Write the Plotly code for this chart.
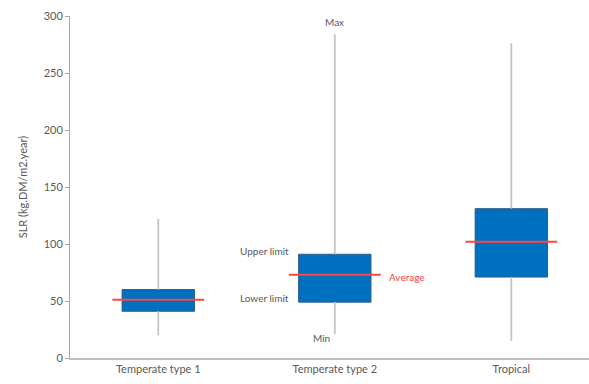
import plotly.graph_objects as go

categories = ["Temperate type 1", "Temperate type 2", "Tropical"]
min_vals = [20, 21, 15]
lower_vals = [41, 49, 71]
avg_vals = [51, 73, 102]
upper_vals = [60, 91, 131]
max_vals = [122, 284, 276]
y_ticks = [0, 50, 100, 150, 200, 250, 300]

pos = list(range(len(categories)))
BOX_W = 0.41
AVG_W = 0.52
FONT = "Lato"
TXT = "#595959"

fig = go.Figure()

# whiskers (split around box)
wx, wy = [], []
for i in pos:
    wx += [i, i, None, i, i, None]
    wy += [max_vals[i], upper_vals[i], None, lower_vals[i], min_vals[i], None]
fig.add_trace(go.Scatter(x=wx, y=wy, mode="lines",
                         line=dict(color="#c4c4c4", width=1.8), hoverinfo="skip"))

# boxes
fig.add_trace(go.Bar(x=pos, y=[u - l for u, l in zip(upper_vals, lower_vals)],
                     base=lower_vals, width=BOX_W,
                     marker=dict(color="#0070c0", line=dict(color="#2e5c87", width=1))))

# averages
ax, ay = [], []
for i in pos:
    ax += [i - AVG_W / 2, i + AVG_W / 2, None]
    ay += [avg_vals[i], avg_vals[i], None]
fig.add_trace(go.Scatter(x=ax, y=ay, mode="lines",
                         line=dict(color="#ff4545", width=2), hoverinfo="skip"))

ann = [
    dict(x=1, y=294.5, text="Max", xanchor="center", font=dict(color=TXT)),
    dict(x=0.75, y=94, text="Upper limit", xanchor="right", font=dict(color=TXT)),
    dict(x=0.75, y=53, text="Lower limit", xanchor="right", font=dict(color=TXT)),
    dict(x=0.926, y=17.5, text="Min", xanchor="center", font=dict(color=TXT)),
    dict(x=1.294, y=71, text="Average", xanchor="left", font=dict(color="#ff4545")),
]
for a in ann:
    a.update(showarrow=False, yanchor="middle", xref="x", yref="y")
    a["font"].update(family=FONT, size=10)

fig.update_layout(
    width=589, height=384,
    margin=dict(l=70, r=0, t=16, b=26),
    paper_bgcolor="white", plot_bgcolor="white",
    showlegend=False, barmode="overlay",
    font=dict(family=FONT, size=11, color=TXT),
    annotations=ann,
    xaxis=dict(range=[-0.5, 2.44], tickvals=pos, ticktext=categories,
               showgrid=False, zeroline=False, showline=True,
               linecolor="#bfbfbf", linewidth=2, ticks="",
               tickfont=dict(family=FONT, size=11, color=TXT)),
    yaxis=dict(range=[0, 300], tickvals=y_ticks, showgrid=False, zeroline=False,
               showline=True, linecolor="#a6a6a6", linewidth=1,
               ticks="outside", ticklen=4, tickcolor="#a6a6a6",
               tickfont=dict(family=FONT, size=11, color=TXT),
               title=dict(text="SLR (kg.DM/m2.year)", standoff=13,
                          font=dict(family=FONT, size=11, color=TXT))),
)

fig.write_html("out.html")
